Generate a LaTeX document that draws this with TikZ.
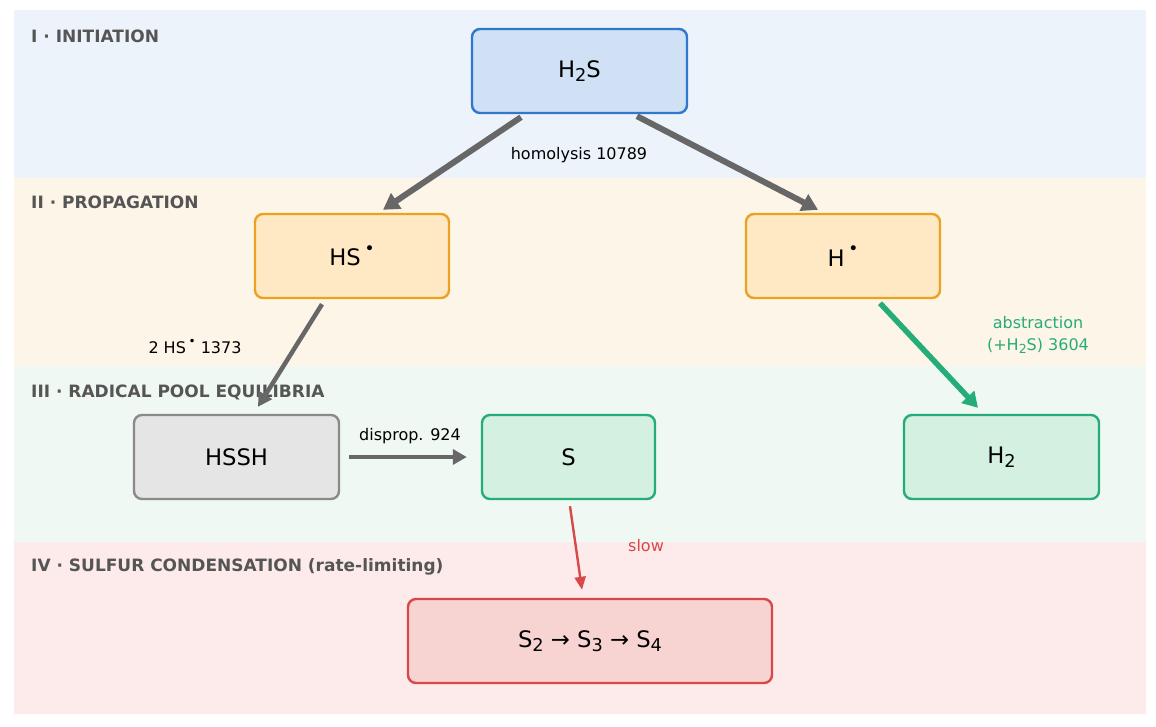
\documentclass[tikz,border=0pt]{standalone}
\usepackage{fontspec}
\setmainfont{DejaVu Sans}
\usetikzlibrary{arrows.meta}
\definecolor{bandA}{HTML}{EDF3FB}
\definecolor{bandB}{HTML}{FDF5E7}
\definecolor{bandC}{HTML}{EFF8F2}
\definecolor{bandD}{HTML}{FDEBEB}
\definecolor{blueF}{HTML}{D0E0F5}
\definecolor{blueS}{HTML}{2F78CC}
\definecolor{oraF}{HTML}{FFE8C4}
\definecolor{oraS}{HTML}{E9A320}
\definecolor{grayF}{HTML}{E5E5E5}
\definecolor{grayS}{HTML}{8A8A8A}
\definecolor{grnF}{HTML}{D4F0E1}
\definecolor{grnS}{HTML}{25AD79}
\definecolor{redF}{HTML}{F7D4D2}
\definecolor{redS}{HTML}{D94848}
\definecolor{arrG}{HTML}{676767}
\definecolor{titleC}{HTML}{555555}
\newcommand{\chsub}[1]{\raisebox{-0.2em}{\fontsize{0.78em}{1em}\selectfont #1}}
\newcommand{\chdot}{\raisebox{0.5em}{\fontsize{0.75em}{1em}\selectfont •}}
\tikzset{
  box/.style={rounded corners=8pt, line width=2.4pt, minimum width=#1, minimum height=84pt, inner sep=0pt, font=\fontsize{22.7}{26}\selectfont},
  box/.default=195pt,
  bandtitle/.style={anchor=west, text=titleC, font=\bfseries\fontsize{17}{20}\selectfont, inner sep=0pt},
  lbl/.style={font=\fontsize{16}{22}\selectfont, inner sep=0pt, align=center},
  garrow/.style={draw=arrG, line width=6pt, -{Triangle[length=16pt,width=18pt]}},
  marrow/.style={draw=arrG, line width=4.5pt, -{Triangle[length=14pt,width=15pt]}},
}
\begin{document}
\begin{tikzpicture}[x=1pt,y=-1pt]
\useasboundingbox (0,0) rectangle (1156,726);
\fill[white] (0,0) rectangle (1156,726);
% bands
\fill[bandA] (14,10) rectangle (1146,178);
\fill[bandB] (14,178) rectangle (1146,366);
\fill[bandC] (14,366) rectangle (1146,542);
\fill[bandD] (14,542) rectangle (1146,714);
\node[bandtitle] (t1) at (31,36) {I · INITIATION};
\node[bandtitle] (t2) at (31,202) {II · PROPAGATION};
\node[bandtitle] (t3) at (31,392) {III · RADICAL POOL EQUILIBRIA};
\node[bandtitle] (t4) at (31,567) {IV · SULFUR CONDENSATION (rate-limiting)};
% nodes
\node[box=215pt, fill=blueF, draw=blueS] (h2s) at (579.5,71) {H\chsub{2}S};
\node[box=194pt, fill=oraF, draw=oraS] (hs) at (352,256) {HS\,\chdot};
\node[box=194pt, fill=oraF, draw=oraS] (h) at (843,256) {H\,\chdot};
\node[box=205pt, fill=grayF, draw=grayS] (hssh) at (236.5,457) {HSSH};
\node[box=173pt, fill=grnF, draw=grnS] (s) at (568.5,457) {S};
\node[box=195pt, fill=grnF, draw=grnS] (h2) at (1001.5,457) {H\chsub{2}};
\node[box=364pt, fill=redF, draw=redS] (s4) at (590,641) {S\chsub{2} → S\chsub{3} → S\chsub{4}};
% connectors
\draw[garrow] ([xshift=-58.5pt,yshift=-3pt]h2s.south) -- ([xshift=31pt,yshift=3pt]hs.north);
\draw[garrow] ([xshift=57.5pt,yshift=-2pt]h2s.south) -- ([xshift=-25pt,yshift=3pt]h.north);
\draw[marrow] ([xshift=-30pt,yshift=-5pt]hs.south) -- ([xshift=21.5pt,yshift=7pt]hssh.north);
\draw[draw=grnS, line width=5.5pt, -{Triangle[length=15pt,width=17pt]}] ([xshift=37pt,yshift=-4pt]h.south) -- ([xshift=-23.5pt,yshift=6pt]h2.north);
\draw[marrow] ([xshift=9pt]hssh.east) -- ([xshift=-14pt]s.west);
\draw[draw=redS, line width=2.4pt, -{Triangle[length=13pt,width=11pt]}] ([xshift=1.5pt,yshift=-6pt]s.south) -- ([xshift=-8pt,yshift=8pt]s4.north);
% labels
\node[lbl] (l1) at (579,155) {homolysis 10789};
\node[lbl] (l2) at (195,347) {2 HS\,\chdot\ 1373};
\node[lbl, text=grnS] (l3) at (1038,335) {abstraction\\(+H\chsub{2}S) 3604};
\node[lbl] (l4) at (410,436) {disprop. 924};
\node[lbl, text=redS] (l5) at (646,546) {slow};
\end{tikzpicture}
\end{document}
